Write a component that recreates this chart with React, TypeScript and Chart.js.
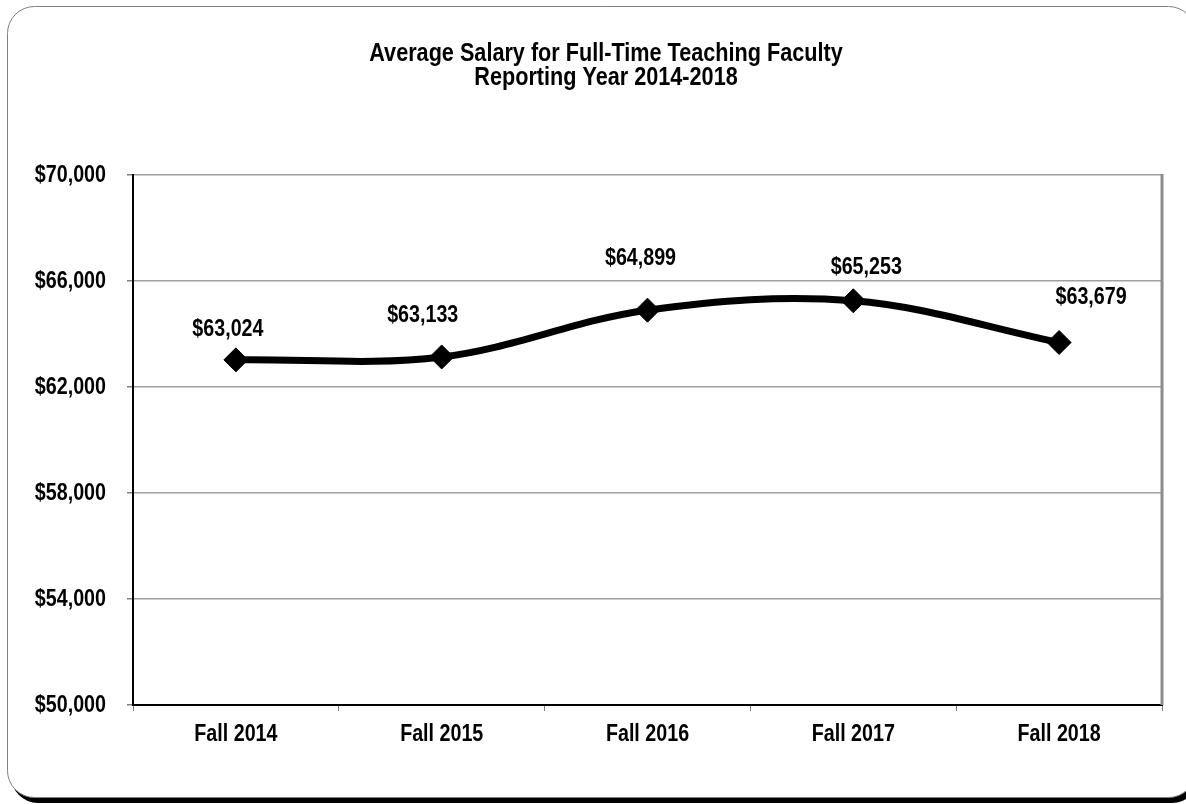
import React, { useEffect, useRef } from "react";
import { Chart, registerables } from "chart.js";

Chart.register(...registerables);

const categories = ["Fall 2014", "Fall 2015", "Fall 2016", "Fall 2017", "Fall 2018"];
const salaries = [63024, 63133, 64899, 65253, 63679];
const yMin = 50000;
const yMax = 70000;
const yStep = 4000;
const titleLines = ["Average Salary for Full-Time Teaching Faculty", "Reporting Year 2014-2018"];
// manual nudges of the data labels relative to their points (dx, dy)
const labelNudges: [number, number][] = [
  [-8, -30],
  [-19, -42],
  [-7, -52],
  [13, -33],
  [32, -45],
];

const FONT = "'Liberation Sans', Arial, sans-serif";
const NARROW = 0.82;

const fmt = (v: number) => "$" + v.toLocaleString("en-US");

function roundRect(ctx: CanvasRenderingContext2D, x: number, y: number, w: number, h: number, r: number) {
  ctx.beginPath();
  ctx.moveTo(x + r, y);
  ctx.lineTo(x + w - r, y);
  ctx.arcTo(x + w, y, x + w, y + r, r);
  ctx.lineTo(x + w, y + h - r);
  ctx.arcTo(x + w, y + h, x + w - r, y + h, r);
  ctx.lineTo(x + r, y + h);
  ctx.arcTo(x, y + h, x, y + h - r, r);
  ctx.lineTo(x, y + r);
  ctx.arcTo(x, y, x + r, y, r);
  ctx.closePath();
}

function narrowText(
  ctx: CanvasRenderingContext2D,
  text: string,
  x: number,
  y: number,
  align: CanvasTextAlign,
  size: number,
  baseline: CanvasTextBaseline = "middle"
) {
  ctx.save();
  ctx.font = `bold ${size}px ${FONT}`;
  ctx.fillStyle = "#000000";
  ctx.textAlign = align;
  ctx.textBaseline = baseline;
  ctx.translate(x, y);
  ctx.scale(NARROW, 1);
  ctx.fillText(text, 0, 0);
  ctx.restore();
}

const framePlugin = {
  id: "frame",
  beforeDraw(chart: any) {
    const ctx = chart.ctx as CanvasRenderingContext2D;
    ctx.save();
    ctx.fillStyle = "#ffffff";
    ctx.fillRect(0, 0, chart.width, chart.height);
    // shadow
    ctx.fillStyle = "#000000";
    roundRect(ctx, 11, 11, 1188, 792, 27);
    ctx.fill();
    // box
    ctx.fillStyle = "#ffffff";
    roundRect(ctx, 7.5, 6.5, 1188, 791, 27);
    ctx.fill();
    ctx.strokeStyle = "#808080";
    ctx.lineWidth = 1;
    ctx.stroke();
    ctx.restore();
    // title
    narrowText(ctx, titleLines[0], 606, 61, "center", 26.4, "alphabetic");
    narrowText(ctx, titleLines[1], 606, 85, "center", 26.4, "alphabetic");
  },
  afterDatasetsDraw(chart: any) {
    const ctx = chart.ctx as CanvasRenderingContext2D;
    const area = chart.chartArea;
    ctx.save();
    // right border of plot area
    ctx.strokeStyle = "#8c8c8c";
    ctx.lineWidth = 3;
    ctx.beginPath();
    ctx.moveTo(area.right, area.top - 1);
    ctx.lineTo(area.right, area.bottom);
    ctx.stroke();
    ctx.restore();
    // y tick labels
    const ys = chart.scales.y;
    for (let v = yMin; v <= yMax; v += yStep) {
      narrowText(ctx, fmt(v), 106, ys.getPixelForValue(v), "right", 24);
    }
    // x tick labels
    const xs = chart.scales.x;
    categories.forEach((c, i) => {
      narrowText(ctx, c, xs.getPixelForValue(i), area.bottom + 29, "center", 24);
    });
    // data labels
    const meta = chart.getDatasetMeta(0);
    meta.data.forEach((pt: any, i: number) => {
      const [dx, dy] = labelNudges[i];
      narrowText(ctx, fmt(salaries[i]), pt.x + dx, pt.y + dy, "center", 24);
    });
  },
};

export default function App() {
  const ref = useRef<HTMLCanvasElement | null>(null);
  useEffect(() => {
    document.body.style.margin = "0";
    const canvas = ref.current!;
    const chart = new Chart(canvas, {
      type: "line",
      data: {
        labels: categories,
        datasets: [
          {
            data: salaries,
            borderColor: "#000000",
            backgroundColor: "#000000",
            borderWidth: 7,
            tension: 0.35,
            pointStyle: "rectRot",
            pointRadius: 12,
            pointBackgroundColor: "#000000",
            pointBorderColor: "#000000",
            pointBorderWidth: 1,
            fill: false,
          },
        ],
      },
      options: {
        responsive: false,
        animation: false,
        events: [],
        layout: { padding: { top: 175, right: 24, left: 0, bottom: 0 } },
        plugins: {
          legend: { display: false },
          title: { display: false },
          tooltip: { enabled: false },
        },
        scales: {
          x: {
            type: "category",
            offset: true,
            grid: {
              offset: true,
              drawOnChartArea: false,
              drawTicks: true,
              tickLength: 6,
              tickColor: "#808080",
            },
            border: { color: "#000000", width: 2 },
            ticks: { display: false },
            afterFit(scale: any) {
              scale.height = 99;
            },
          },
          y: {
            min: yMin,
            max: yMax,
            grid: {
              color: "#a0a0a0",
              lineWidth: 1.5,
              tickLength: 6,
              tickColor: "#808080",
            },
            border: { color: "#000000", width: 2 },
            ticks: { display: false, stepSize: yStep },
            afterFit(scale: any) {
              scale.width = 133;
            },
          },
        },
      },
      plugins: [framePlugin],
    });
    return () => chart.destroy();
  }, []);
  return <canvas ref={ref} width={1186} height={804} style={{ display: "block" }} />;
}
